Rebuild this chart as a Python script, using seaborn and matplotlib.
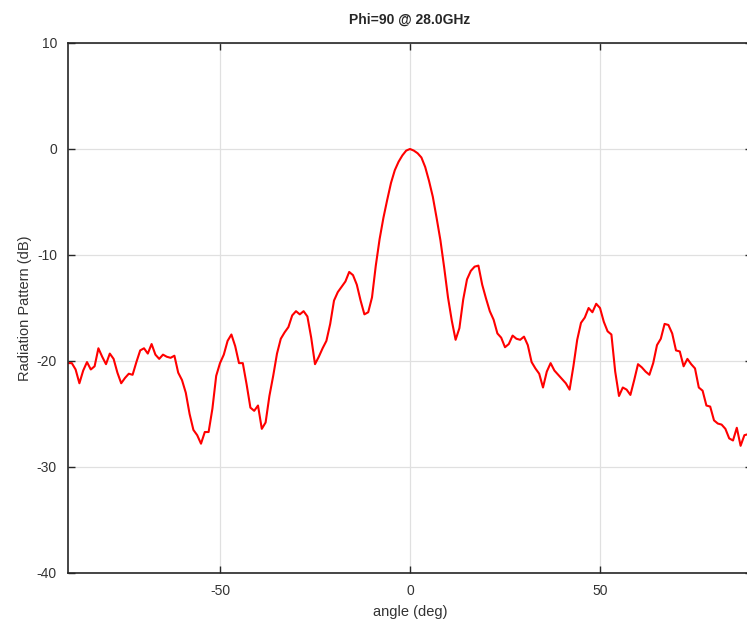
#!/usr/bin/env python3
"""
Radiation pattern cut at Phi=90, 28 GHz
"""

import matplotlib
matplotlib.use("Agg")
import matplotlib.pyplot as plt
import pandas as pd
import seaborn as sns

# angle grid (deg), 1 degree steps
angles = list(range(-90, 91))

# pattern in dB
pattern_db = [
    -20.2, -20.2, -20.8, -22.1, -20.9, -20.1, -20.8, -20.5, -18.8, -19.6,   # -90..-81
    -20.3, -19.3, -19.8, -21.1, -22.1, -21.6, -21.2, -21.3, -20.1, -19.0,   # -80..-71
    -18.8, -19.3, -18.4, -19.4, -19.8, -19.4, -19.6, -19.7, -19.5, -21.1,   # -70..-61
    -21.8, -23.0, -25.0, -26.5, -27.0, -27.8, -26.7, -26.7, -24.5, -21.4,   # -60..-51
    -20.2, -19.4, -18.1, -17.5, -18.6, -20.2, -20.2, -22.2, -24.4, -24.7,   # -50..-41
    -24.2, -26.4, -25.8, -23.3, -21.4, -19.3, -17.9, -17.3, -16.8, -15.7,   # -40..-31
    -15.3, -15.6, -15.3, -15.8, -17.8, -20.3, -19.6, -18.8, -18.1, -16.5,   # -30..-21
    -14.3, -13.5, -13.0, -12.5, -11.6, -11.9, -12.8, -14.3, -15.6, -15.4,   # -20..-11
    -14.0, -11.0, -8.5, -6.5, -4.8, -3.2, -2.0, -1.2, -0.6, -0.15,          # -10..-1
    0.0,                                                                     # 0
    -0.15, -0.4, -0.8, -1.7, -3.0, -4.5, -6.5, -8.6, -11.2, -14.0,          # 1..10
    -16.2, -18.0, -16.9, -14.2, -12.3, -11.5, -11.1, -11.0, -12.8, -14.1,   # 11..20
    -15.3, -16.1, -17.4, -17.8, -18.7, -18.4, -17.6, -17.9, -18.0, -17.7,   # 21..30
    -18.5, -20.1, -20.7, -21.2, -22.5, -21.0, -20.2, -20.9, -21.3, -21.7,   # 31..40
    -22.1, -22.7, -20.5, -18.0, -16.4, -15.9, -15.0, -15.4, -14.6, -15.0,   # 41..50
    -16.3, -17.2, -17.5, -21.0, -23.3, -22.5, -22.7, -23.2, -21.8, -20.3,   # 51..60
    -20.6, -21.0, -21.3, -20.2, -18.5, -17.9, -16.5, -16.6, -17.4, -19.0,   # 61..70
    -19.1, -20.5, -19.8, -20.3, -20.7, -22.5, -22.8, -24.2, -24.3, -25.6,   # 71..80
    -25.9, -26.0, -26.4, -27.3, -27.5, -26.3, -28.0, -27.0, -26.9, -27.2,   # 81..90
]

x_ticks = [-50, 0, 50]
y_ticks = [-40, -30, -20, -10, 0, 10]


def plot_pattern():
    sns.set_style("whitegrid")
    plt.rcParams['font.family'] = ['Liberation Sans', 'DejaVu Sans']
    plt.rcParams['axes.unicode_minus'] = False

    df = pd.DataFrame({'angle': angles, 'gain': pattern_db})

    fig = plt.figure(figsize=(7.47, 6.28), dpi=100)
    # right edge of the axes runs a little past the picture, as in the original
    ax = fig.add_axes([68 / 747, 1 - 573 / 628, 684 / 747, 530 / 628])

    sns.lineplot(data=df, x='angle', y='gain', color='#ff0000', linewidth=1.5, ax=ax)

    ax.set_xlim(-90, 90)
    ax.set_ylim(-40, 10)
    ax.set_xticks(x_ticks)
    ax.set_yticks(y_ticks)

    ax.grid(True, color='#e0e0e0', linewidth=0.9)
    for side in ['left', 'bottom', 'top', 'right']:
        ax.spines[side].set_color('#262626')
        ax.spines[side].set_linewidth(1.2)
    ax.tick_params(direction='in', length=5, width=1, color='#262626',
                   labelsize=10, labelcolor='#333333', top=True, right=True,
                   left=True, bottom=True, pad=8)

    ax.set_xlabel('angle (deg)', fontsize=10.5, color='#333333', labelpad=5)
    ax.set_ylabel('Radiation Pattern (dB)', fontsize=10.5, color='#333333', labelpad=3)
    ax.set_title('Phi=90 @ 28.0GHz', fontsize=10, fontweight='bold', pad=14)

    fig.savefig('out.png', dpi=100)
    plt.close(fig)


if __name__ == "__main__":
    plot_pattern()
